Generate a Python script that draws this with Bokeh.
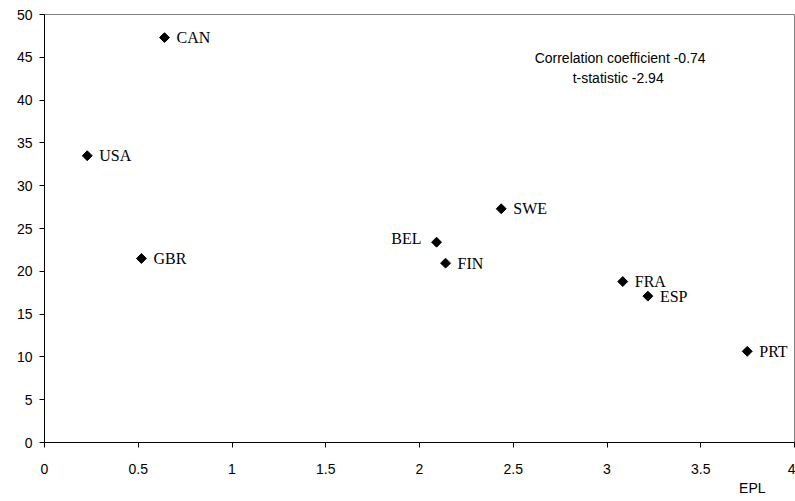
from bokeh.plotting import figure
from bokeh.models import Range1d, FixedTicker, Label, Title, ColumnDataSource
from bokeh.core.properties import value
from bokeh.embed import file_html
from bokeh.resources import INLINE
import numpy as np

countries = ["CAN", "USA", "GBR", "BEL", "FIN", "SWE", "FRA", "ESP", "PRT"]
epl = [0.64, 0.228, 0.517, 2.091, 2.139, 2.436, 3.084, 3.218, 3.748]
yvals = [47.3, 33.5, 21.5, 23.4, 20.95, 27.3, 18.8, 17.1, 10.65]
x_ticks = [0, 0.5, 1, 1.5, 2, 2.5, 3, 3.5, 4]
x_tick_labels = ["0", "0.5", "1", "1.5", "2", "2.5", "3", "3.5", "4"]
y_ticks = [0, 5, 10, 15, 20, 25, 30, 35, 40, 45, 50]
corr_text = "Correlation coefficient -0.74"
tstat_text = "t-statistic  -2.94"
x_title = "EPL"

p = figure(width=795, height=500, output_backend="svg", toolbar_location=None,
           x_range=Range1d(0, 4), y_range=Range1d(0, 50),
           min_border_left=44, min_border_right=1, min_border_top=14, min_border_bottom=58)
p.grid.visible = False
p.outline_line_color = "#808080"
p.outline_line_width = 1
p.background_fill_color = "white"
p.border_fill_color = "white"

for ax in (p.xaxis[0], p.yaxis[0]):
    ax.axis_line_color = "black"
    ax.major_tick_line_color = "black"
    ax.minor_tick_line_color = None
    ax.major_tick_in = 0
    ax.major_tick_out = 5
    ax.major_label_text_font = "Liberation Sans"
    ax.major_label_text_font_size = "14px"
    ax.major_label_text_color = "black"

p.xaxis[0].ticker = FixedTicker(ticks=x_ticks)
p.xaxis[0].major_label_overrides = {t: l for t, l in zip(x_ticks, x_tick_labels)}
p.xaxis[0].major_label_standoff = 16
p.yaxis[0].ticker = FixedTicker(ticks=y_ticks)
p.yaxis[0].major_label_standoff = 7

src = ColumnDataSource(dict(x=epl, y=yvals, name=countries))
p.scatter("x", "y", source=src, marker="square", angle=np.pi / 4, size=7,
          fill_color="black", line_color="black")

right_idx = [i for i, c in enumerate(countries) if c != "BEL"]
left_idx = [i for i, c in enumerate(countries) if c == "BEL"]
p.text([epl[i] for i in right_idx], [yvals[i] for i in right_idx],
       text=[countries[i] for i in right_idx], x_offset=12, y_offset=0,
       text_align="left", text_baseline="middle",
       text_font=value("Liberation Serif"), text_font_size="16px", text_color="black")
p.text([epl[i] for i in left_idx], [yvals[i] for i in left_idx],
       text=[countries[i] for i in left_idx], x_offset=-15, y_offset=-4,
       text_align="right", text_baseline="middle",
       text_font=value("Liberation Serif"), text_font_size="16px", text_color="black")

p.add_layout(Label(x=3.07, y=44.86, text=corr_text, text_align="center", text_baseline="middle",
                   text_font="Liberation Sans", text_font_size="14px", text_color="black"))
p.add_layout(Label(x=3.07, y=42.64, text=tstat_text, text_align="center", text_baseline="middle",
                   text_font="Liberation Sans", text_font_size="14px", text_color="black"))

p.add_layout(Title(text=x_title, align="right", text_font="Liberation Sans",
                   text_font_size="14px", text_font_style="normal", text_color="black",
                   offset=29, standoff=2), "below")

open("out.html", "w").write(file_html(p, INLINE))
